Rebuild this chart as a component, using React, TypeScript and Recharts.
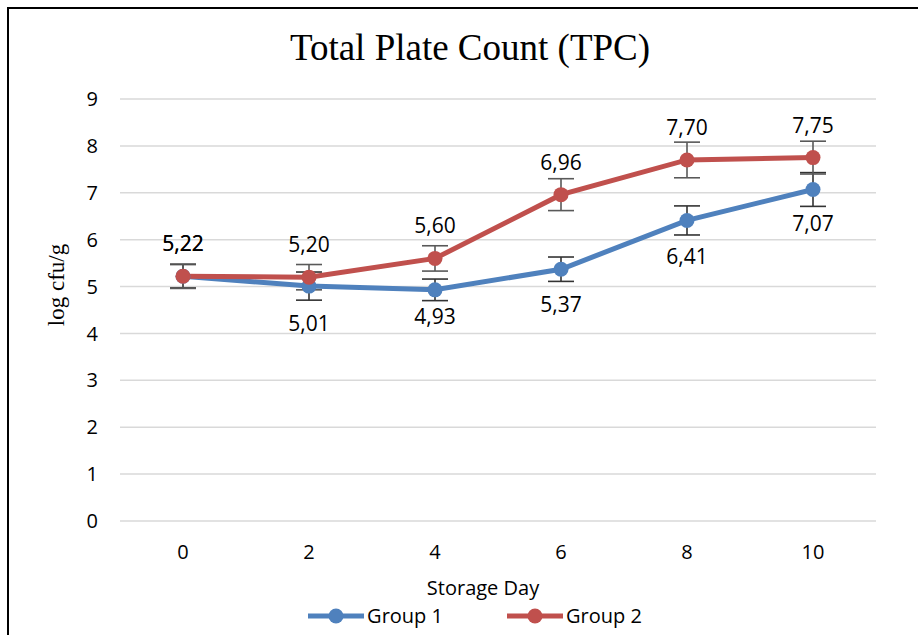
import React from 'react';
import { LineChart, Line, XAxis, YAxis, CartesianGrid, ErrorBar, LabelList, Legend } from 'recharts';

const days = ['0', '2', '4', '6', '8', '10'];
const group1 = [5.22, 5.01, 4.93, 5.37, 6.41, 7.07];
const group2 = [5.22, 5.2, 5.6, 6.96, 7.7, 7.75];
const group1Err = [0.25, 0.3, 0.23, 0.26, 0.31, 0.36];
const group2Err = [0.26, 0.27, 0.27, 0.34, 0.38, 0.35];
const yTicks = [0, 1, 2, 3, 4, 5, 6, 7, 8, 9];
const seriesNames = ['Group 1', 'Group 2'];

const colors = ['#4F81BD', '#C0504D'];
// label placement (style): negative = above the point, positive = below
const g1LabelOffsets = [-25, 30, 19, 28, 28, 26];
const g2LabelOffset = 25;

const data = days.map((d, i) => ({ day: d, g1: group1[i], g2: group2[i], e1: group1Err[i], e2: group2Err[i] }));

const fmt = (v: number) => v.toFixed(2).replace('.', ',');
const labelFont = { fontFamily: 'Open Sans', fontSize: 21, fill: '#000' };

const getXY = (p: any) => {
  const x = p.x ?? p.viewBox?.x;
  const y = p.y ?? p.viewBox?.y;
  return { x, y };
};

const G1Label = (p: any) => {
  const { x, y } = getXY(p);
  const off = g1LabelOffsets[p.index];
  if (off < 0) {
    return <text x={x} y={y + off} textAnchor="middle" {...labelFont}>{fmt(Number(p.value))}</text>;
  }
  return <text x={x} y={y + off} dy="0.72em" textAnchor="middle" {...labelFont}>{fmt(Number(p.value))}</text>;
};

const G2Label = (p: any) => {
  const { x, y } = getXY(p);
  return <text x={x} y={y - g2LabelOffset} textAnchor="middle" {...labelFont}>{fmt(Number(p.value))}</text>;
};

const YLabel = () => (
  <text x={56} y={285} transform="rotate(-90 56 285)" textAnchor="middle" dominantBaseline="central"
    fontFamily="Liberation Serif" fontSize={23} fill="#000">log cfu/g</text>
);

const renderLegend = () => (
  <div style={{ display: 'flex', justifyContent: 'center', gap: 64, fontFamily: 'Open Sans', fontSize: 20, paddingLeft: 32, lineHeight: '30px' }}>
    {seriesNames.map((n, i) => (
      <div key={n} style={{ display: 'flex', alignItems: 'center' }}>
        <svg width={56} height={18}>
          <line x1={0} y1={9} x2={56} y2={9} stroke={colors[i]} strokeWidth={5} />
          <circle cx={28} cy={9} r={7.5} fill={colors[i]} />
        </svg>
        <span style={{ marginLeft: 3, color: '#000' }}>{n}</span>
      </div>
    ))}
  </div>
);

export default function App() {
  return (
    <div style={{ position: 'absolute', left: 0, top: 0, width: 918, height: 635, background: '#fff', overflow: 'hidden' }}>
      <div style={{ position: 'absolute', left: 7, top: 7, width: 920, height: 640, borderTop: '2px solid #000', borderLeft: '2px solid #000' }} />
      <div style={{ position: 'absolute', left: 0, top: 29, width: 940, textAlign: 'center', fontFamily: 'Liberation Serif', fontSize: 37, lineHeight: '37px', color: '#000' }}>
        Total Plate Count (TPC)
      </div>
      <div style={{ position: 'absolute', left: 0, top: 0 }}>
        <LineChart width={918} height={635} data={data} margin={{ top: 99, right: 42, bottom: 10, left: 0 }}>
          <CartesianGrid vertical={false} stroke="#d9d9d9" strokeWidth={1.5} />
          <XAxis dataKey="day" scale="band" axisLine={false} tickLine={false} tickSize={0} tickMargin={24} height={74}
            tick={{ fontFamily: 'Open Sans', fontSize: 20, fill: '#000' }}
            label={{ value: 'Storage Day', position: 'insideBottom', offset: 0, dx: -15, style: { fontFamily: 'Open Sans', fontSize: 20, fill: '#000' } }} />
          <YAxis domain={[0, 9]} ticks={yTicks} width={120} axisLine={false} tickLine={false} tickSize={0} tickMargin={22}
            tick={{ fontFamily: 'Open Sans', fontSize: 20, fill: '#000' }} label={YLabel} />
          <Legend verticalAlign="bottom" height={30} content={renderLegend} wrapperStyle={{ bottom: 4, left: 0, width: 918 }} />
          <Line type="linear" dataKey="g1" name={seriesNames[0]} stroke={colors[0]} strokeWidth={5}
            dot={{ r: 7.5, fill: colors[0], stroke: colors[0], strokeWidth: 0 }} activeDot={false} isAnimationActive={false}>
            <LabelList dataKey="g1" content={G1Label} />
          </Line>
          <Line type="linear" dataKey="g1" legendType="none" stroke="none" dot={false} activeDot={false} isAnimationActive={false}>
            <ErrorBar dataKey="e1" width={13} strokeWidth={1.6} stroke="#333333" direction="y" />
          </Line>
          <Line type="linear" dataKey="g2" name={seriesNames[1]} stroke={colors[1]} strokeWidth={5}
            dot={{ r: 7.5, fill: colors[1], stroke: colors[1], strokeWidth: 0 }} activeDot={false} isAnimationActive={false}>
            <ErrorBar dataKey="e2" width={13} strokeWidth={1.6} stroke="#595959" direction="y" />
            <LabelList dataKey="g2" content={G2Label} />
          </Line>
        </LineChart>
      </div>
    </div>
  );
}
